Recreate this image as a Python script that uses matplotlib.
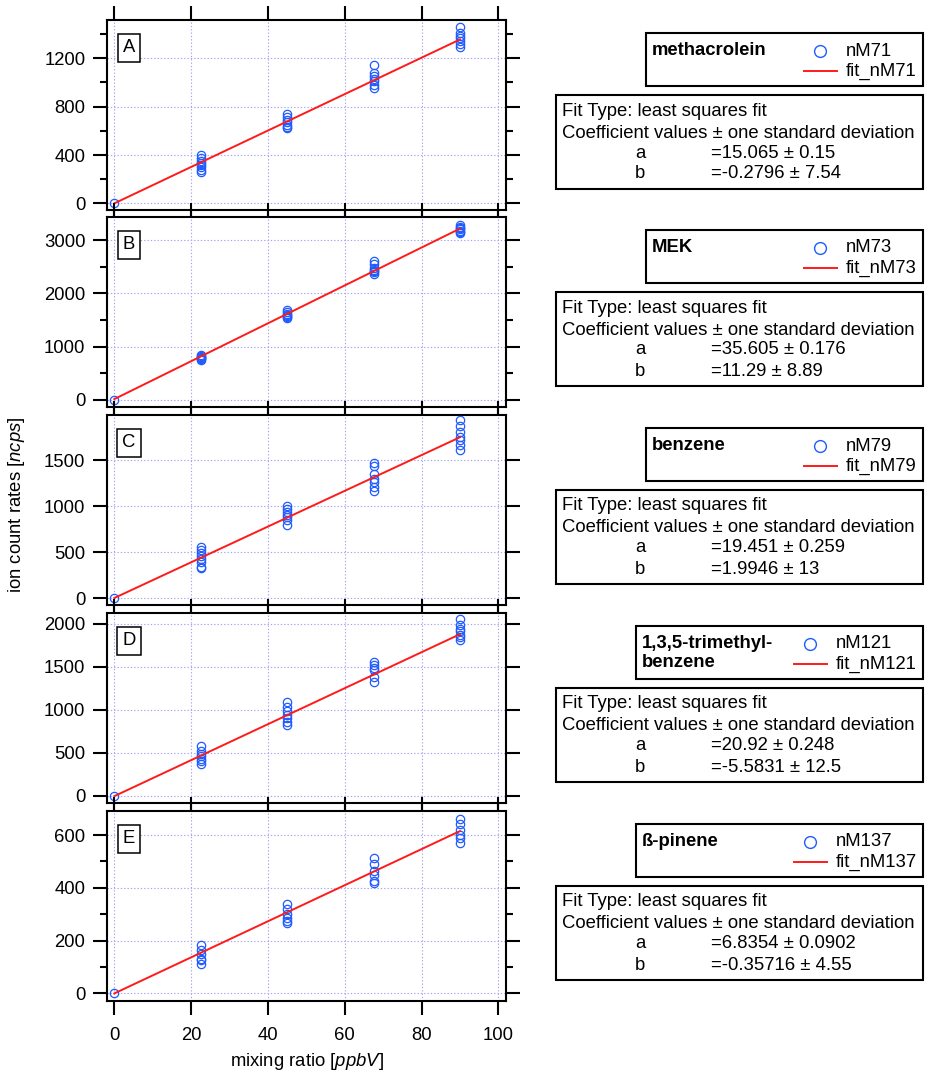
import numpy as np
import matplotlib
matplotlib.use("Agg")
import matplotlib.pyplot as plt
from matplotlib.lines import Line2D
from matplotlib.patches import Rectangle
from matplotlib.ticker import MultipleLocator

plt.rcParams['font.family'] = ['Liberation Sans', 'DejaVu Sans']
plt.rcParams['mathtext.fontset'] = 'custom'
plt.rcParams['mathtext.rm'] = 'Liberation Sans'
plt.rcParams['mathtext.it'] = 'Liberation Sans:italic'

# mixing ratios [ppbV]
conc = [0, 22.5, 45, 67.5, 90]

# ion count rates per mixing ratio level
nM71 = [[0], [398, 372, 350, 335, 318, 300, 280, 262],
        [740, 712, 690, 670, 650, 635, 622],
        [1145, 1075, 1055, 1030, 1010, 980, 955],
        [1460, 1410, 1385, 1365, 1340, 1320, 1295]]
nM73 = [[0], [840, 820, 800, 790, 775, 760, 750],
        [1680, 1650, 1620, 1600, 1580, 1560, 1540],
        [2600, 2560, 2470, 2440, 2420, 2400, 2370],
        [3280, 3250, 3230, 3200, 3180, 3160, 3140]]
nM79 = [[0], [555, 520, 490, 460, 430, 390, 345, 330],
        [1000, 970, 940, 910, 880, 850, 800],
        [1470, 1440, 1350, 1300, 1260, 1210, 1170],
        [1940, 1880, 1810, 1760, 1720, 1670, 1610]]
nM121 = [[0], [575, 520, 490, 460, 430, 400, 370],
         [1090, 1030, 980, 940, 900, 860, 820],
         [1560, 1520, 1490, 1460, 1380, 1320],
         [2060, 1980, 1940, 1910, 1870, 1840, 1810]]
nM137 = [[0], [185, 165, 150, 130, 125, 110],
         [340, 320, 300, 285, 275, 265],
         [512, 490, 465, 450, 425, 420],
         [662, 640, 620, 600, 590, 568]]

series = [nM71, nM73, nM79, nM121, nM137]
wave_names = ["nM71", "nM73", "nM79", "nM121", "nM137"]
compounds = ["methacrolein", "MEK", "benzene", "1,3,5-trimethyl-\nbenzene", "ß-pinene"]
panel_tags = ["A", "B", "C", "D", "E"]

# fit coefficients y = a*x + b and their standard deviations
fit_a = [15.065, 35.605, 19.451, 20.92, 6.8354]
fit_a_sd = ["0.15", "0.176", "0.259", "0.248", "0.0902"]
fit_b = ["-0.2796", "11.29", "1.9946", "-5.5831", "-0.35716"]
fit_b_sd = ["7.54", "8.89", "13", "12.5", "4.55"]

ylims = [(-55, 1517), (-137, 3434), (-74, 1995), (-85, 2124), (-29, 691)]
ymajor = [400, 1000, 500, 500, 200]
yminor = [200, 500, None, None, 100]

W, H = 925, 1073
FS = 13.3
blue = '#1f5bff'
red = '#ff1a1a'

def fx(x):
    return x / W

def fy(y):
    return 1 - y / H

fig = plt.figure(figsize=(W / 100, H / 100), dpi=100)

tops = [20, 217, 415, 613, 811]
ax_h = 190
ax_l, ax_r = 107, 506
leg_left = [646, 646, 646, 636, 636]
entry_x = [846, 846, 846, 836, 836]

for i in range(5):
    t = tops[i]
    ax = fig.add_axes([fx(ax_l), fy(t + ax_h), (ax_r - ax_l) / W, ax_h / H])
    xs = np.concatenate([[c] * len(v) for c, v in zip(conc, series[i])])
    ys = np.concatenate(series[i])
    ax.plot(xs, ys, 'o', ls='none', mfc='none', mec=blue, ms=6, mew=0.9, zorder=3)
    xf = np.array([conc[0], conc[-1]])
    ax.plot(xf, fit_a[i] * xf + float(fit_b[i]), color=red, lw=1.4, zorder=4)

    ax.set_xlim(-1.9, 102)
    ax.set_ylim(*ylims[i])
    ax.xaxis.set_major_locator(MultipleLocator(20))
    ax.yaxis.set_major_locator(MultipleLocator(ymajor[i]))
    if yminor[i]:
        ax.yaxis.set_minor_locator(MultipleLocator(yminor[i]))
    ax.grid(True, which='major', color='#a4a4f5', ls=(0, (1.2, 1.8)), lw=0.8)
    ax.tick_params(which='both', direction='out', top=True, right=True,
                   width=1.5, labelsize=FS, pad=5.5)
    ax.tick_params(which='major', length=10)
    ax.tick_params(which='minor', length=5)
    ax.tick_params(axis='x', pad=8.5)
    if i < 4:
        ax.tick_params(axis='x', labelbottom=False)
    for s in ax.spines.values():
        s.set_linewidth(1.5)

    ax.text(0.055, 0.853, panel_tags[i], transform=ax.transAxes, fontsize=FS,
            ha='center', va='center',
            bbox=dict(boxstyle='square,pad=0.28', fc='white', ec='black', lw=1.1))

    # legend box
    lt = t + 13
    fig.add_artist(Rectangle((fx(leg_left[i]), fy(lt + 53)), (923 - leg_left[i]) / W, 53 / H,
                             transform=fig.transFigure, fill=False, lw=1.5, ec='black'))
    fig.text(fx(leg_left[i] + 6), fy(lt + 9), compounds[i], fontsize=FS, fontweight='bold',
             ha='left', va='top', linespacing=1.15)
    ex = entry_x[i]
    fig.add_artist(Line2D([fx(ex - 26)], [fy(lt + 18)], marker='o', ls='none',
                          mfc='none', mec=blue, ms=8.5, mew=1.0, transform=fig.transFigure))
    fig.add_artist(Line2D([fx(ex - 42), fx(ex - 9)], [fy(lt + 38)] * 2, color=red, lw=1.4,
                          transform=fig.transFigure))
    fig.text(fx(ex), fy(lt + 18), wave_names[i], fontsize=FS, ha='left', va='center')
    fig.text(fx(ex), fy(lt + 38), "fit_" + wave_names[i], fontsize=FS, ha='left', va='center')

    # fit result box
    bt = t + 75
    fig.add_artist(Rectangle((fx(556), fy(bt + 94)), (923 - 556) / W, 94 / H,
                             transform=fig.transFigure, fill=False, lw=1.5, ec='black'))
    fig.text(fx(562), fy(bt + 16), "Fit Type: least squares fit", fontsize=FS, ha='left', va='center')
    fig.text(fx(562), fy(bt + 38), "Coefficient values ± one standard deviation",
             fontsize=FS, ha='left', va='center')
    fig.text(fx(640), fy(bt + 58), "a", fontsize=FS, ha='center', va='center')
    fig.text(fx(711), fy(bt + 58), "=%s ± %s" % (fit_a[i], fit_a_sd[i]), fontsize=FS,
             ha='left', va='center')
    fig.text(fx(640), fy(bt + 79), "b", fontsize=FS, ha='center', va='center')
    fig.text(fx(711), fy(bt + 79), "=%s ± %s" % (fit_b[i], fit_b_sd[i]), fontsize=FS,
             ha='left', va='center')

fig.text(fx(306.5), fy(1061), r"mixing ratio [$\it{ppbV}$]", fontsize=FS, ha='center', va='center')
fig.text(fx(17), fy(505), r"ion count rates [$\it{ncps}$]", fontsize=FS, ha='center', va='center',
         rotation=90)

fig.savefig("out.png", dpi=100)
